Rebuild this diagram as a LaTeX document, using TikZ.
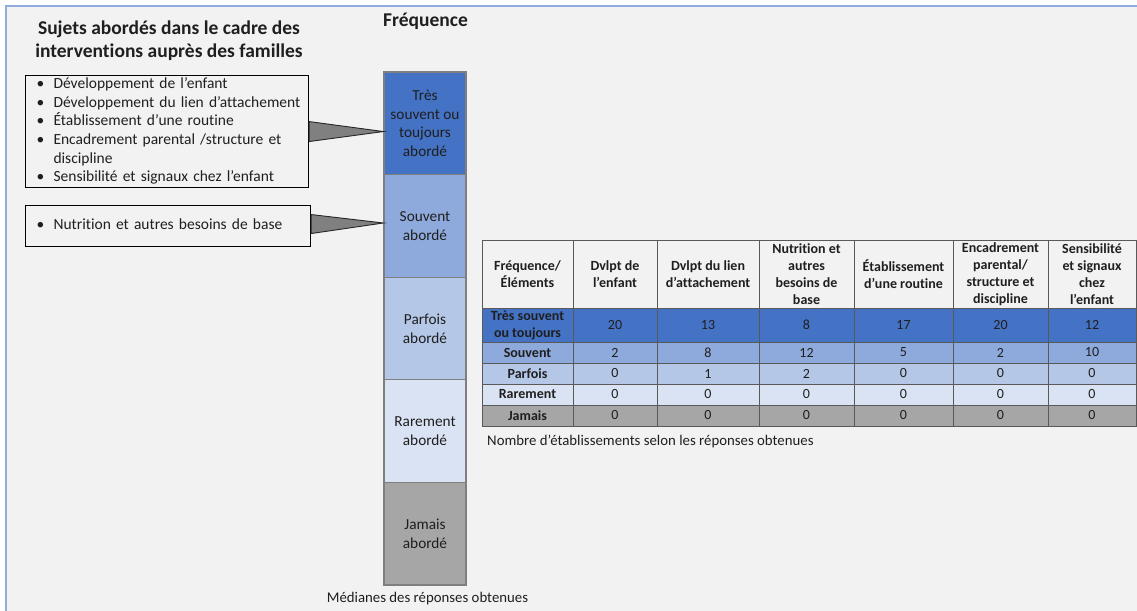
\documentclass[tikz,border=0pt]{standalone}
\usepackage{fontspec}
\setmainfont{Carlito}[Ligatures={TeX,NoCommon}]

\definecolor{bg}{HTML}{F2F2F2}
\definecolor{frame}{HTML}{8FAADC}
\definecolor{ink}{HTML}{1F1F1F}
\definecolor{freqA}{HTML}{4472C4}
\definecolor{freqB}{HTML}{8EA9DB}
\definecolor{freqC}{HTML}{B4C7E7}
\definecolor{freqD}{HTML}{DAE3F3}
\definecolor{freqE}{HTML}{A6A6A6}
\definecolor{seggray}{HTML}{7F7F7F}
\definecolor{gridline}{HTML}{595959}
\definecolor{ptrfill}{HTML}{808080}
\definecolor{ptrline}{HTML}{262626}

% straight apostrophe, as printed in the table
\newcommand\sq{\char"0027\relax}

% one table cell: name, x1, x2, y1, y2, fill, extra style, text
\newcommand\tabcell[8]{%
  \node[cell,fill=#6,#7,minimum width={(#3)-(#2)},minimum height={(#5)-(#4)}]
    (#1) at ({((#2)+(#3))/2},{((#4)+(#5))/2}) {#8};}

% one data row: index, y1, y2, fill, row label, six values
\newcommand\datarow[6]{%
  \tabcell{r#1-c0}{482}{573}{#2}{#3}{#4}{hd}{#5}%
  \foreach \v [count=\c] in {#6}{%
    \pgfmathsetmacro\xa{{482,573,657,759,854,953,1048,1136}[\c]}%
    \pgfmathsetmacro\xb{{482,573,657,759,854,953,1048,1136}[\c+1]}%
    \tabcell{r#1-c\c}{\xa}{\xb}{#2}{#3}{#4}{}{\v}%
  }%
}

\begin{document}
\begin{tikzpicture}[x=1pt,y=-1pt,
  title/.style={font=\bfseries\fontsize{19.5}{23}\selectfont,text=ink,align=center,inner sep=0pt},
  seg/.style={draw=seggray,line width=1.2pt,minimum width=82pt,minimum height=102.6pt,
    inner sep=0pt,align=center,font=\fontsize{15.3}{18.7}\selectfont,text=ink},
  listbox/.style={draw=black,line width=1.1pt,fill=bg,inner xsep=11pt,inner ysep=0pt,
    anchor=north west,align=left,font=\fontsize{15.5}{18.6}\selectfont,text=ink},
  ptr/.style={draw=ptrline,fill=ptrfill,line width=0.9pt,line join=miter},
  cell/.style={draw=gridline,line width=0.8pt,inner sep=0pt,align=center,
    font=\fontsize{14}{17}\selectfont,text=ink},
  hd/.style={font=\bfseries\fontsize{14}{17}\selectfont},
  caption/.style={font=\fontsize{14.8}{17}\selectfont,text=ink,inner sep=0pt}
]
\useasboundingbox (0,0) rectangle (1137,610);
\fill[white] (0,0) rectangle (1137,610);
\draw[draw=frame,fill=bg,line width=1.3pt] (6,6) rectangle (1170,640);

% headings
\node[title] (topics) at (169,41) {Sujets abordés dans le cadre des\\interventions auprès des familles};
\node[title,anchor=base] (freq) at (425.5,27) {Fréquence};

% frequency scale
\node[seg,fill=freqA] (s1) at (425,123.3) {Très\\souvent ou\\toujours\\abordé};
\node[seg,fill=freqB] (s2) at (425,225.9) {Souvent\\abordé};
\node[seg,fill=freqC] (s3) at (425,328.5) {Parfois\\abordé};
\node[seg,fill=freqD] (s4) at (425,431.1) {Rarement\\abordé};
\node[seg,fill=freqE] (s5) at (425,533.7) {Jamais\\abordé};
\node[caption] (med) at (427.5,599) {Médianes des réponses obtenues};

% topic boxes
\node[listbox,text width=261pt,minimum height=112pt] (b1) at (25,75) {%
  \begin{tabular}{@{}p{17pt}@{}l@{}}
  \textbullet & Développement de l’enfant\\
  \textbullet & Développement du lien d’attachement\\
  \textbullet & Établissement d’une routine\\
  \textbullet & Encadrement parental /structure et\\
              & discipline\\
  \textbullet & Sensibilité et signaux chez l’enfant
  \end{tabular}};
\node[listbox,text width=263pt,minimum height=41pt] (b2) at (25,205) {%
  \begin{tabular}{@{}p{17pt}@{}l@{}}
  \textbullet & Nutrition et autres besoins de base
  \end{tabular}};

% callout pointers
\coordinate (tip1) at (s1.west |- b1.east);
\coordinate (tip2) at (s2.west |- 0,223);
\draw[ptr] ([yshift=10pt]b1.east) -- (tip1) -- ([yshift=-10pt]b1.east) -- cycle;
\draw[ptr] ([yshift=11.5pt]b2.east) -- (tip2) -- ([yshift=-7.5pt]b2.east) -- cycle;

% table: header row
\tabcell{h0}{482}{573}{240}{308}{bg}{hd}{Fréquence/\\Éléments}
\tabcell{h1}{573}{657}{240}{308}{bg}{hd}{Dvlpt de\\l\sq enfant}
\tabcell{h2}{657}{759}{240}{308}{bg}{hd}{Dvlpt du lien\\d\sq attachement}
\tabcell{h3}{759}{854}{240}{308}{bg}{hd}{Nutrition et\\autres\\besoins de\\base}
\tabcell{h4}{854}{953}{240}{308}{bg}{hd}{Établissement\\d\sq une routine}
\tabcell{h5}{953}{1048}{240}{308}{bg}{hd}{Encadrement\\parental/\\structure et\\discipline}
\tabcell{h6}{1048}{1136}{240}{308}{bg}{hd}{Sensibilité\\et signaux\\chez\\l\sq enfant}

% table: data rows
\datarow{1}{308}{342}{freqA}{Très souvent\\ou toujours}{20,13,8,17,20,12}
\datarow{2}{342}{363}{freqB}{Souvent}{2,8,12,5,2,10}
\datarow{3}{363}{384}{freqC}{Parfois}{0,1,2,0,0,0}
\datarow{4}{384}{405}{freqD}{Rarement}{0,0,0,0,0,0}
\datarow{5}{405}{426}{freqE}{Jamais}{0,0,0,0,0,0}

\node[caption,anchor=west] (count) at (487,441) {Nombre d’établissements selon les réponses obtenues};
\end{tikzpicture}
\end{document}
